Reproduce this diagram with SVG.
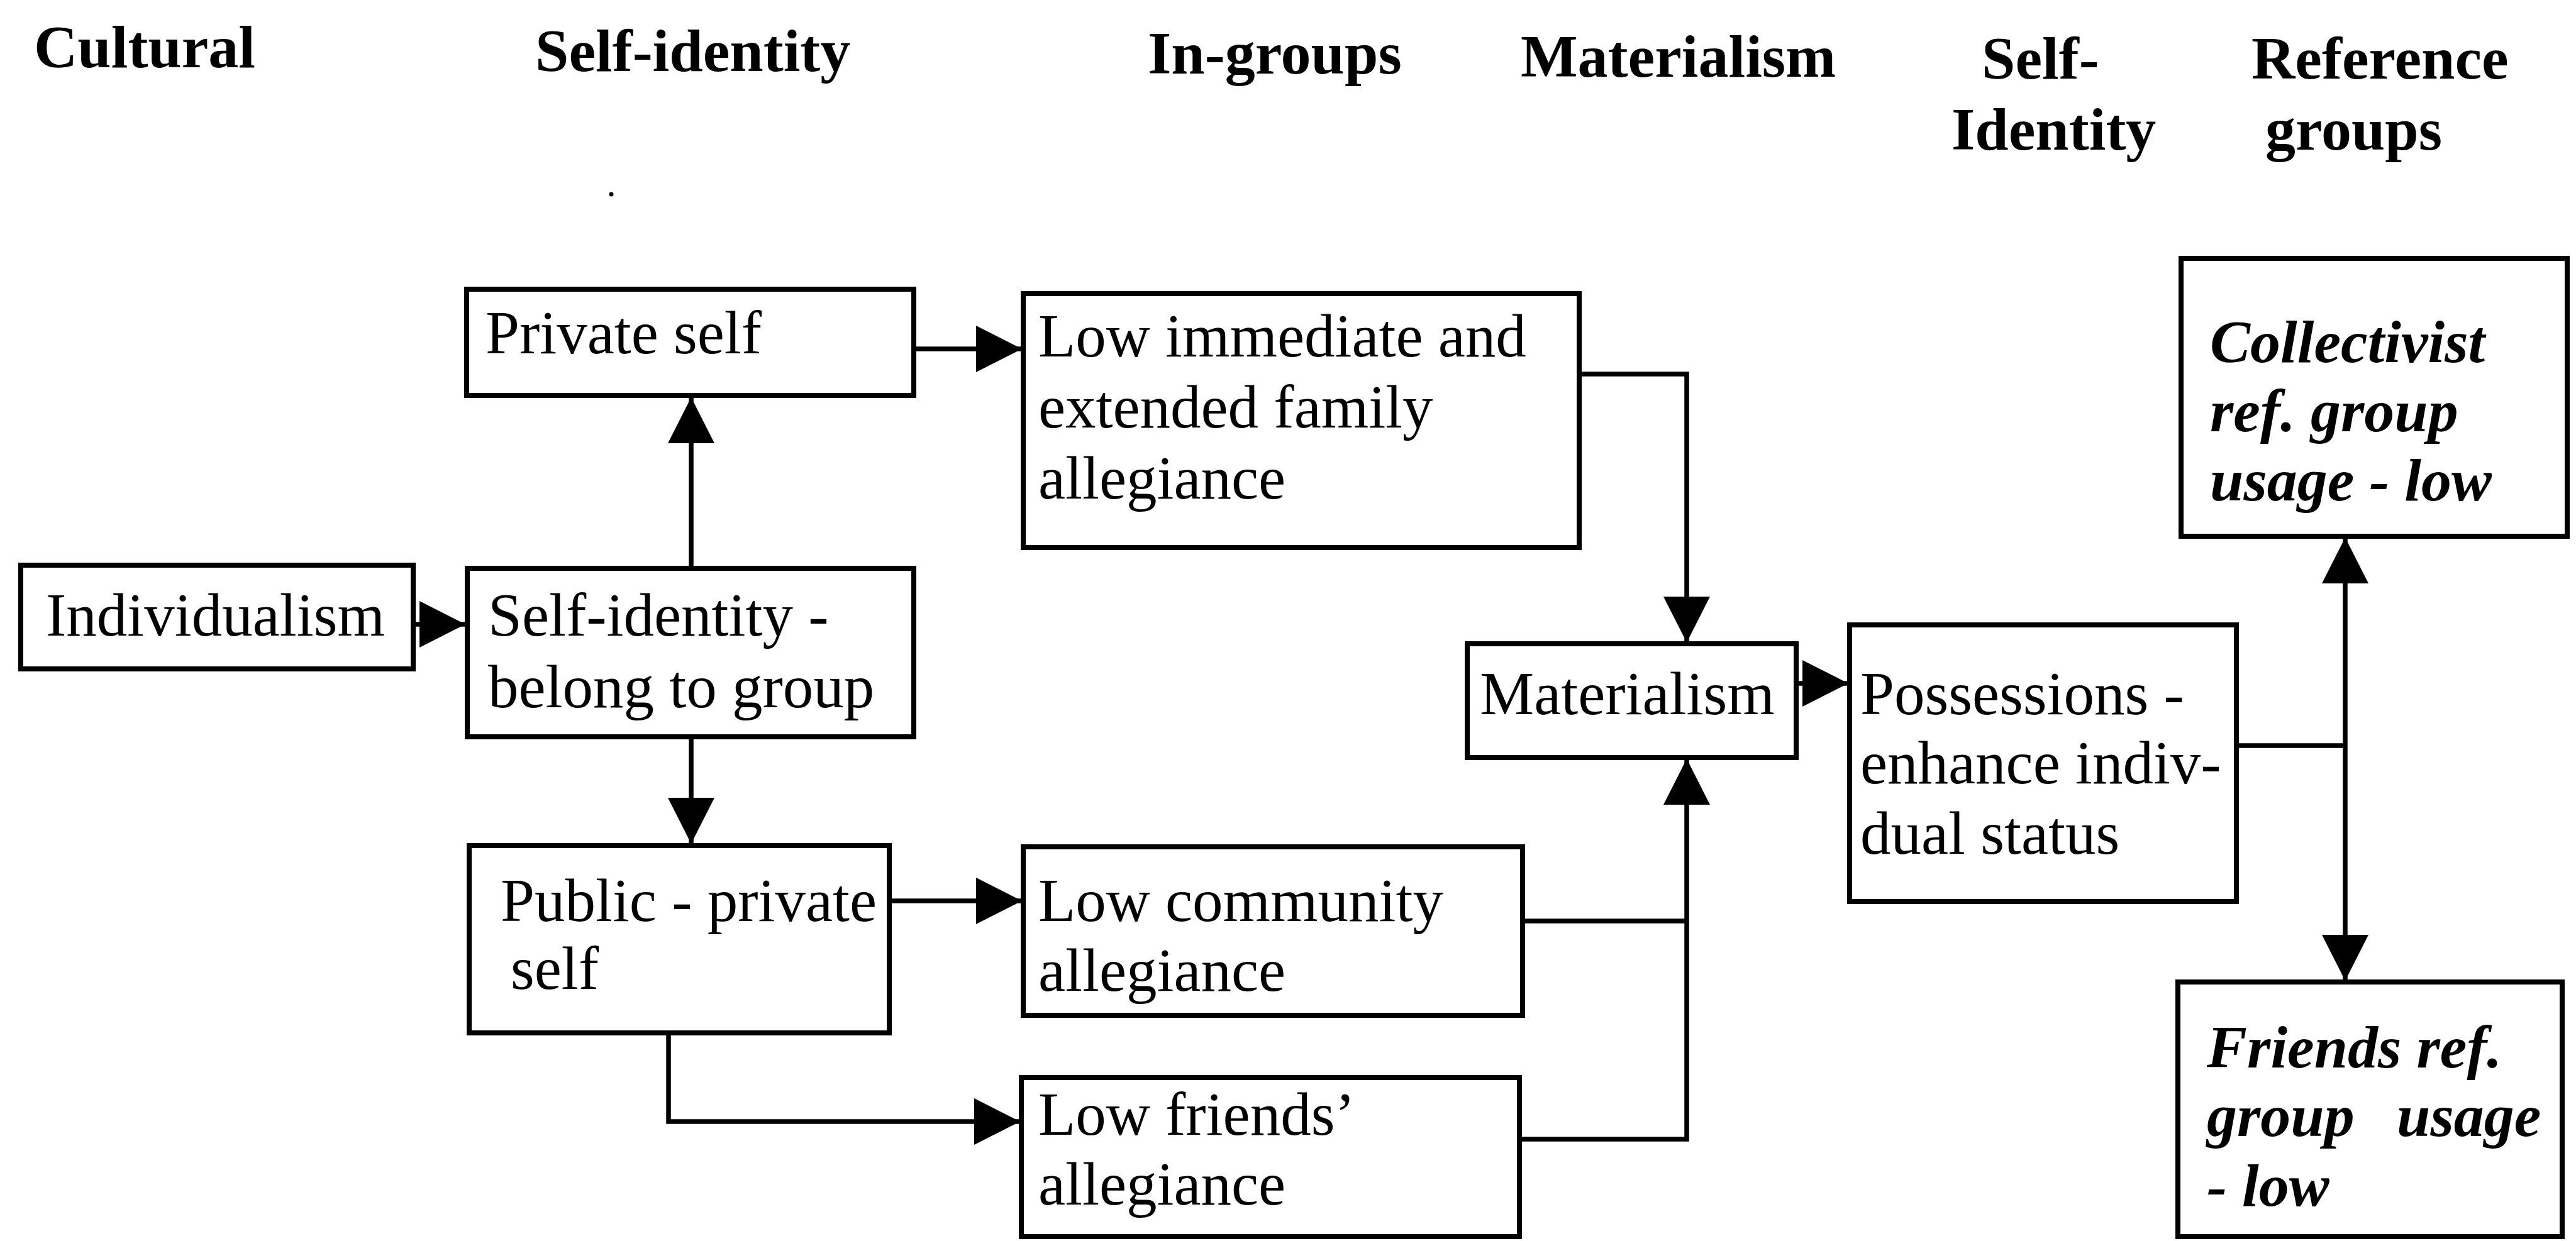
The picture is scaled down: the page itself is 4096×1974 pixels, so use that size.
<svg xmlns="http://www.w3.org/2000/svg" width="4096" height="1974" viewBox="0 0 4096 1974">
<style>
.box{fill:#fff;stroke:#000;stroke-width:8}
.t{font-family:"Liberation Serif","Times New Roman",serif;font-size:97px;fill:#000}
.h{font-family:"Liberation Serif","Times New Roman",serif;font-size:96px;font-weight:bold;fill:#000}
.bi{font-family:"Liberation Serif","Times New Roman",serif;font-size:96px;font-weight:bold;font-style:italic;fill:#000}
.c{fill:none;stroke:#000;stroke-width:7.5}
</style>
<defs>
<marker id="ah" viewBox="0 0 73 74" refX="73" refY="37" markerWidth="73" markerHeight="74" markerUnits="userSpaceOnUse" orient="auto">
<path d="M0,0 L73,37 L0,74 Z" fill="#000"/>
</marker>
</defs>
<rect width="4096" height="1974" fill="#fff"/>
<g id="headers">
<text class="h" x="54" y="107">Cultural</text>
<text class="h" x="851" y="113">Self-identity</text>
<text class="h" x="1825" y="117">In-groups</text>
<text class="h" x="2418" y="122">Materialism</text>
<text class="h" x="3151" y="125">Self-</text>
<text class="h" x="3103" y="238">Identity</text>
<text class="h" x="3580" y="125">Reference</text>
<text class="h" x="3602" y="238">groups</text>
<circle cx="972" cy="309" r="3.5" fill="#000"/>
</g>
<g id="connectors">
<path class="c" d="M657,993 H740" marker-end="url(#ah)"/>
<path class="c" d="M1099,904 V632" marker-end="url(#ah)"/>
<path class="c" d="M1099,1172 V1342" marker-end="url(#ah)"/>
<path class="c" d="M1453,555 H1625" marker-end="url(#ah)"/>
<path class="c" d="M1414,1433 H1625" marker-end="url(#ah)"/>
<path class="c" d="M1063,1643 V1784 H1622" marker-end="url(#ah)"/>
<path class="c" d="M2511,595 H2682 V1022" marker-end="url(#ah)"/>
<path class="c" d="M2421,1465 H2682"/>
<path class="c" d="M2416,1812 H2682 V1207" marker-end="url(#ah)"/>
<path class="c" d="M2856,1087 H2939" marker-end="url(#ah)"/>
<path class="c" d="M3556,1186 H3729"/>
<path class="c" d="M3729,1186 V855" marker-end="url(#ah)"/>
<path class="c" d="M3729,1186 V1560" marker-end="url(#ah)"/>
</g>
<g id="individualism">
<rect class="box" x="33" y="899" width="624" height="165"/>
<text class="t" x="73" y="1011">Individualism</text>
</g>
<g id="private-self">
<rect class="box" x="742" y="460" width="711" height="169"/>
<text class="t" x="772" y="562">Private self</text>
</g>
<g id="self-identity">
<rect class="box" x="743" y="904" width="710" height="268"/>
<text class="t" x="776" y="1011">Self-identity -</text>
<text class="t" x="776" y="1125">belong to group</text>
</g>
<g id="public-private">
<rect class="box" x="746" y="1345" width="668" height="298"/>
<text class="t" x="796" y="1465">Public - private</text>
<text class="t" x="812" y="1573">self</text>
</g>
<g id="low-family">
<rect class="box" x="1627" y="467" width="884" height="404"/>
<text class="t" x="1651" y="567">Low immediate and</text>
<text class="t" x="1651" y="680">extended family</text>
<text class="t" x="1651" y="793">allegiance</text>
</g>
<g id="low-community">
<rect class="box" x="1627" y="1347" width="794" height="268"/>
<text class="t" x="1651" y="1465">Low community</text>
<text class="t" x="1651" y="1576">allegiance</text>
</g>
<g id="low-friends">
<rect class="box" x="1624" y="1714" width="792" height="253"/>
<text class="t" x="1651" y="1805">Low friends’</text>
<text class="t" x="1651" y="1916">allegiance</text>
</g>
<g id="materialism">
<rect class="box" x="2333" y="1024" width="523" height="181"/>
<text class="t" x="2353" y="1136">Materialism</text>
</g>
<g id="possessions">
<rect class="box" x="2941" y="994" width="615" height="440"/>
<text class="t" x="2958" y="1136">Possessions -</text>
<text class="t" x="2958" y="1246">enhance indiv-</text>
<text class="t" x="2958" y="1358">dual status</text>
</g>
<g id="collectivist">
<rect class="box" x="3468" y="411" width="614" height="442"/>
<text class="bi" x="3514" y="576">Collectivist</text>
<text class="bi" x="3514" y="686">ref. group</text>
<text class="bi" x="3514" y="796">usage - low</text>
</g>
<g id="friends-ref">
<rect class="box" x="3463" y="1562" width="611" height="405"/>
<text class="bi" x="3509" y="1698">Friends ref.</text>
<text class="bi" y="1807"><tspan x="3509">group</tspan><tspan x="3811">usage</tspan></text>
<text class="bi" x="3509" y="1918">- low</text>
</g>
</svg>
